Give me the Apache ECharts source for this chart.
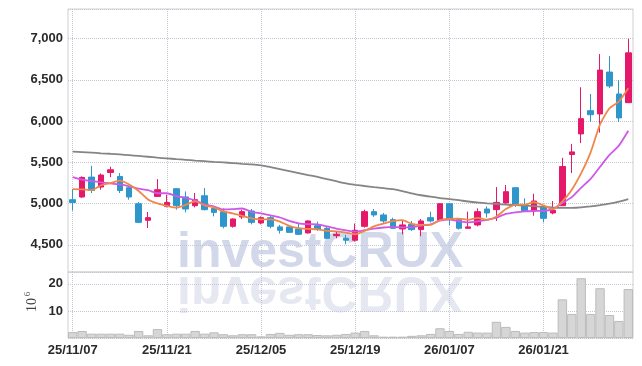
<!DOCTYPE html>
<html><head><meta charset="utf-8">
<script src="https://cdn.jsdelivr.net/npm/echarts@6/dist/echarts.min.js"></script>
<style>html,body{margin:0;padding:0;background:#fff}#c{width:642px;height:366px}</style>
</head><body><div id="c"></div>
<script>
const dates = ["25/11/07","25/11/10","25/11/11","25/11/12","25/11/13","25/11/14","25/11/17","25/11/18","25/11/19","25/11/20",
"25/11/21","25/11/24","25/11/25","25/11/26","25/11/27","25/11/28","25/12/01","25/12/02","25/12/03","25/12/04",
"25/12/05","25/12/08","25/12/09","25/12/10","25/12/11","25/12/12","25/12/15","25/12/16","25/12/17","25/12/18",
"25/12/19","25/12/22","25/12/23","25/12/24","25/12/26","25/12/29","25/12/30","26/01/02","26/01/05","26/01/06",
"26/01/07","26/01/08","26/01/09","26/01/12","26/01/13","26/01/14","26/01/15","26/01/16","26/01/19","26/01/20",
"26/01/21","26/01/22","26/01/23","26/01/26","26/01/27","26/01/28","26/01/29","26/01/30","26/02/02","26/02/03"];
const openP  = [5047,5080,5321,5200,5377,5329,5192,4998,4797,5087,4966,5180,5080,4974,5095,4942,4902,4724,4838,4910,
4765,4829,4717,4717,4692,4644,4732,4700,4611,4579,4555,4724,4902,4862,4805,4692,4748,4684,4829,4797,
4998,4805,4700,4741,4934,4926,5007,5192,4983,4917,4966,4886,4974,5595,5845,6127,6087,6595,6329,6224];
const closeP = [5014,5317,5159,5346,5410,5159,5080,4772,4829,5168,5014,4974,4934,5047,4926,4893,4724,4813,4902,4772,
4829,4724,4676,4651,4627,4789,4692,4579,4627,4555,4676,4902,4862,4789,4700,4741,4684,4789,4789,4998,
4813,4700,4717,4902,4886,5014,5144,4980,4910,5031,4821,4918,5450,5627,6030,6078,6619,6426,6039,6828];
const lowP   = [4914,5070,5128,5168,5321,5128,5047,4765,4704,5080,4954,4926,4893,4954,4918,4845,4700,4708,4813,4748,
4748,4700,4636,4645,4620,4636,4668,4575,4579,4506,4539,4708,4838,4765,4695,4627,4668,4603,4772,4790,
4740,4684,4700,4724,4830,4789,5000,4960,4905,4853,4772,4869,4970,5370,5733,5990,5861,6401,5990,6220];
const highP  = [5176,5330,5458,5365,5446,5370,5200,5019,4898,5297,5107,5185,5147,5128,5188,4974,4942,4820,4926,4934,
4845,4862,4741,4724,4765,4797,4781,4724,4660,4620,4757,4926,4934,4886,4829,4789,4789,4813,4902,5005,
5005,4810,4902,4942,4966,5200,5225,5195,5063,5119,4970,5031,5555,5724,6410,6329,6813,6788,6498,6998];
const ma5  = [5176,5172,5162,5222,5249,5278,5231,5153,5050,5002,4973,4951,4984,5027,4979,4955,4905,4881,4852,4821,
4808,4808,4781,4730,4701,4693,4687,4668,4663,4648,4626,4668,4724,4757,4786,4799,4755,4741,4741,4800,
4815,4818,4803,4826,4804,4844,4933,4985,4987,5016,4977,4932,5026,5169,5369,5621,5961,6156,6238,6398];
const ma10 = [5321,5291,5271,5258,5246,5232,5210,5180,5162,5125,5125,5091,5069,5039,4990,4964,4928,4932,4940,4900,
4881,4856,4831,4791,4761,4751,4748,4724,4697,4675,4660,4677,4696,4710,4717,4712,4712,4733,4749,4793,
4807,4787,4772,4783,4802,4829,4875,4894,4906,4910,4911,4932,5006,5078,5193,5299,5446,5590,5703,5883];
const ma60 = [5631,5625,5618,5610,5604,5596,5587,5578,5568,5557,5548,5539,5531,5522,5514,5506,5499,5491,5482,5476,
5464,5442,5418,5394,5370,5346,5323,5297,5271,5246,5228,5213,5200,5188,5174,5152,5125,5101,5083,5067,
5055,5041,5025,5013,5003,4995,4986,4980,4974,4968,4960,4953,4947,4947,4953,4965,4980,4998,5023,5053];
const volume = [2.2,2.6,1.6,1.6,1.6,1.6,1.2,2.6,1.0,3.3,1.4,1.6,1.6,2.6,1.6,2.1,1.4,1.0,1.4,1.4,
0.6,1.5,1.9,1.2,1.4,1.4,1.1,1.0,1.2,1.5,2.0,2.6,1.0,0.5,0.5,0.5,0.8,1.0,1.5,3.6,
2.6,1.5,2.3,2.0,2.0,6.0,4.1,2.6,2.0,2.2,2.2,2.0,14.3,8.9,22.1,8.9,18.4,8.5,6.3,18.1];

const candleData = dates.map((d, i) => [openP[i], closeP[i], lowP[i], highP[i]]);
const UP = '#e6186a', DOWN = '#2f96cc';
const split = {show: true, interval: 9, alignWithLabel: true, lineStyle: {color: '#c3c6d4', type: 'dotted', width: 1}};
const hsplit = {show: true, lineStyle: {color: '#c3c6d4', type: 'dotted', width: 1}};
const font = {fontFamily: "'Liberation Sans', Arial, sans-serif", fontWeight: 'bold', color: '#2a2a2a'};
const wmFont = 'bold 50px "Liberation Sans", Arial, sans-serif';

const chart = echarts.init(document.getElementById('c'), null, {renderer: 'canvas'});
chart.setOption({
  animation: false,
  grid: [
    {left: 68, right: 9, top: 9, height: 263, show: true, borderColor: '#d0d0d0', borderWidth: 1, backgroundColor: 'transparent'},
    {left: 68, right: 9, top: 272, height: 66, show: true, borderColor: '#d0d0d0', borderWidth: 1, backgroundColor: 'transparent'}
  ],
  graphic: [
    {type: 'text', x: 177, y: 278, z: -10, silent: true,
     style: {text: 'investCRUX', font: wmFont, fill: '#d2d7ea', verticalAlign: 'bottom'}},
    {type: 'text', x: 177, y: 266, scaleY: -1, z: -10, silent: true,
     style: {text: 'investCRUX', font: wmFont, fill: '#e6e8f1', verticalAlign: 'bottom'}},
    {type: 'text', x: 32, y: 305, rotation: Math.PI / 2, silent: true,
     style: {text: '10', font: '14px "Liberation Serif", serif', fill: '#444', align: 'center', verticalAlign: 'middle'}},
    {type: 'text', x: 28, y: 294, rotation: Math.PI / 2, silent: true,
     style: {text: '6', font: '9px "Liberation Serif", serif', fill: '#444', align: 'center', verticalAlign: 'middle'}}
  ],
  xAxis: [
    {type: 'category', gridIndex: 0, data: dates, boundaryGap: true,
     axisLine: {show: false}, axisTick: {show: false}, axisLabel: {show: false}, splitLine: split},
    {type: 'category', gridIndex: 1, data: dates, boundaryGap: true,
     axisLine: {show: false}, axisTick: {show: false},
     axisLabel: Object.assign({interval: 9, fontSize: 13, margin: 6}, font), splitLine: split}
  ],
  yAxis: [
    {type: 'value', gridIndex: 0, min: 4170, max: 7360, splitNumber: 6, scale: true,
     axisLine: {show: false}, axisTick: {show: false}, splitLine: hsplit,
     axisLabel: Object.assign({showMinLabel: false, showMaxLabel: false, fontSize: 13, margin: 5,
       formatter: v => v.toLocaleString('en-US')}, font)},
    {type: 'value', gridIndex: 1, min: 0, max: 24.4, splitNumber: 2,
     axisLine: {show: false}, axisTick: {show: false}, splitLine: hsplit,
     axisLabel: Object.assign({showMinLabel: false, showMaxLabel: false, fontSize: 13, margin: 5}, font)}
  ],
  series: [
    {type: 'candlestick', xAxisIndex: 0, yAxisIndex: 0, data: candleData, barWidth: 6, z: 3,
     itemStyle: {color: UP, color0: DOWN, borderColor: UP, borderColor0: DOWN, borderWidth: 1}},
    {type: 'line', xAxisIndex: 0, yAxisIndex: 0, data: ma60, symbol: 'none', smooth: 0.2, z: 4,
     lineStyle: {color: '#858585', width: 1.8}},
    {type: 'line', xAxisIndex: 0, yAxisIndex: 0, data: ma10, symbol: 'none', smooth: 0.2, z: 4,
     lineStyle: {color: '#cf58e8', width: 1.8}},
    {type: 'line', xAxisIndex: 0, yAxisIndex: 0, data: ma5, symbol: 'none', smooth: 0.2, z: 4,
     lineStyle: {color: '#f0874a', width: 1.8}},
    {type: 'bar', xAxisIndex: 1, yAxisIndex: 1, data: volume, barWidth: '100%',
     itemStyle: {color: '#d6d6d6', borderColor: '#bcbcbc', borderWidth: 1}}
  ]
});
</script></body></html>
